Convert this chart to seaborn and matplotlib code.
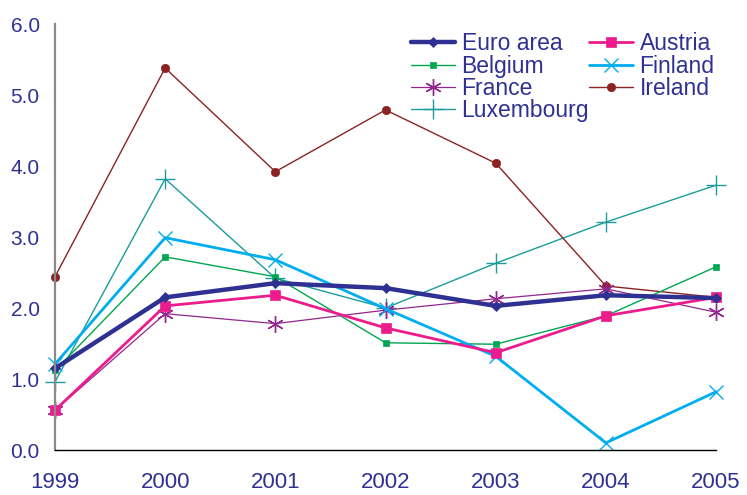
import pandas as pd
import seaborn as sns
import matplotlib.pyplot as plt

years = [1999, 2000, 2001, 2002, 2003, 2004, 2005]

euro_area = [1.15, 2.15, 2.35, 2.28, 2.03, 2.18, 2.14]
austria = [0.56, 2.03, 2.18, 1.72, 1.37, 1.89, 2.15]
belgium = [1.12, 2.72, 2.44, 1.51, 1.49, 1.89, 2.58]
finland = [1.21, 2.99, 2.68, 1.99, 1.32, 0.10, 0.82]
france = [0.56, 1.92, 1.78, 1.97, 2.13, 2.27, 1.94]
ireland = [2.44, 5.38, 3.92, 4.79, 4.04, 2.31, 2.15]
luxembourg = [0.96, 3.82, 2.42, 2.00, 2.63, 3.21, 3.73]

series = {'Euro area': euro_area, 'Austria': austria, 'Belgium': belgium,
          'Finland': finland, 'France': france, 'Ireland': ireland,
          'Luxembourg': luxembourg}

# colour, linewidth, marker, markersize
styles = {'Euro area': ('#2e3192', 3.2, 'D', 5),
          'Austria': ('#ec1c8c', 2.0, 's', 7),
          'Belgium': ('#00a651', 1.0, 's', 4),
          'Finland': ('#00aeef', 2.0, 'x', 10),
          'France': ('#92278f', 0.9, (6, 2, 0), 12),
          'Ireland': ('#8b2323', 1.0, 'o', 6),
          'Luxembourg': ('#1a9c9c', 1.0, '+', 14)}

df = pd.DataFrame({'year': years, **series})

sns.set_style('white')
plt.rcParams['font.family'] = ['Liberation Sans', 'DejaVu Sans']
text_col = '#2e3192'

fig = plt.figure(figsize=(7.47, 4.95), dpi=100)
ax = fig.add_axes([0.0736, 0.0909, 0.885, 0.8606])

# draw order: thin lines first, thick on top
for name in ['Luxembourg', 'Ireland', 'France', 'Belgium', 'Finland', 'Austria', 'Euro area']:
    c, lw, m, ms = styles[name]
    sns.lineplot(data=df, x='year', y=name, ax=ax, color=c, linewidth=lw,
                 marker=m, markersize=ms, markeredgecolor=c,
                 markeredgewidth=1.0 if m in ('x', '+', (6, 2, 0)) else 0.5,
                 label=name, clip_on=False)

ax.set_xlim(1999, 2005)
ax.set_ylim(0, 6)
ax.set_xticks(years)
ax.set_yticks([0, 1, 2, 3, 4, 5, 6])
ax.set_yticklabels([f'{v:.1f}' for v in range(7)])
ax.set_xlabel('')
ax.set_ylabel('')
ax.tick_params(axis='both', length=0, labelcolor=text_col)
ax.tick_params(axis='y', pad=11, labelsize=15)
ax.tick_params(axis='x', pad=16, labelsize=16)

for s in ['top', 'right']:
    ax.spines[s].set_visible(False)
ax.spines['left'].set_color('#8a8a8a')
ax.spines['left'].set_linewidth(1.6)
ax.spines['bottom'].set_color('black')
ax.spines['bottom'].set_linewidth(1.0)

handles, labels = ax.get_legend_handles_labels()
lookup = dict(zip(labels, handles))
order = ['Euro area', 'Belgium', 'France', 'Luxembourg', 'Austria', 'Finland', 'Ireland']
leg = ax.legend([lookup[n] for n in order], order, ncol=2, frameon=False,
                loc='upper left', bbox_to_anchor=(0.518, 1.013), fontsize=16.5,
                handlelength=1.9, handletextpad=0.3, columnspacing=0.0,
                labelspacing=-0.03, borderaxespad=0.2)
for t in leg.get_texts():
    t.set_color(text_col)

fig.savefig('out.png', dpi=100)
